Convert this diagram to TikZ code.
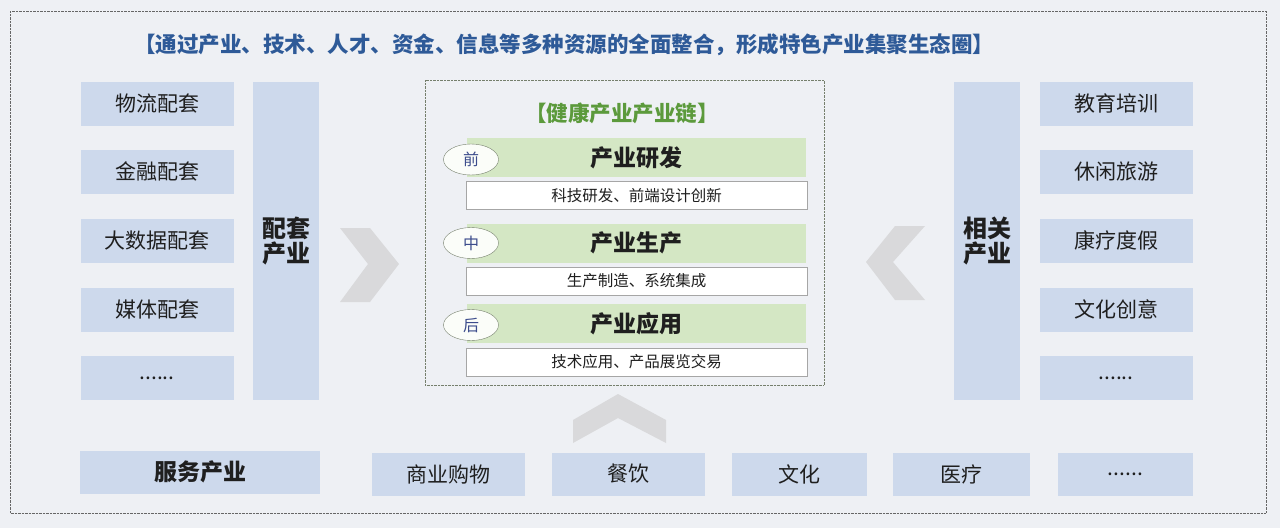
\documentclass[tikz,border=0pt]{standalone}
\usepackage{fontspec}
\setmainfont{Noto Sans CJK SC}
\usetikzlibrary{shapes.geometric}
\definecolor{bgcol}{HTML}{EEF0F4}
\definecolor{boxblue}{HTML}{CDD9EC}
\definecolor{titleblue}{HTML}{2E5A98}
\definecolor{chaingreen}{HTML}{5C9A3C}
\definecolor{bandgreen}{HTML}{D4E7C4}
\definecolor{chevgray}{HTML}{D9D9DB}
\definecolor{ellblue}{HTML}{3C4C8C}
\begin{document}
\begin{tikzpicture}[x=1pt,y=-1pt,
				every node/.style={inner sep=0pt,text=black!88},
				sidebox/.style={rectangle,fill=boxblue,minimum width=153pt,minimum height=44pt,font=\fontsize{21}{21}\selectfont},
				tallbox/.style={rectangle,fill=boxblue,minimum width=66pt,minimum height=318pt,align=center,font=\fontsize{24}{25}\selectfont\bfseries},
				bottombox/.style={rectangle,fill=boxblue,minimum height=43pt,font=\fontsize{21}{21}\selectfont},
				band/.style={rectangle,fill=bandgreen,minimum width=339pt,minimum height=39pt,font=\fontsize{23}{23}\selectfont\bfseries},
				subbox/.style={rectangle,fill=white,draw=black!35,minimum width=341pt,minimum height=28pt,font=\fontsize{15.5}{16}\selectfont},
				stage/.style={ellipse,fill=white!90!bandgreen,draw=black!45!bandgreen,minimum width=55pt,minimum height=31pt,font=\fontsize{16}{16}\selectfont,text=ellblue},
				chevron/.style={fill=chevgray,draw=none}]
% background and frames
\fill[bgcol] (0,0) rectangle (1280,528);
\draw[densely dotted,black!60] (10,11) rectangle (1266,513);
\node[text=titleblue,font=\fontsize{21.5}{22}\selectfont\bfseries] (title) at (564,45) {【通过产业、技术、人才、资金、信息等多种资源的全面整合，形成特色产业集聚生态圈】};

% left side
\node[sidebox] (l1) at (157,103.5) {物流配套};
\node[sidebox] (l2) at (157,171.5) {金融配套};
\node[sidebox] (l3) at (157,240.5) {大数据配套};
\node[sidebox] (l4) at (157,309.5) {媒体配套};
\node[sidebox] (l5) at (157,378) {......};
\node[tallbox] (peitao) at (286,241) {配套\\产业};

% right side
\node[tallbox] (xiangguan) at (987,241) {相关\\产业};
\node[sidebox] (r1) at (1116,103.5) {教育培训};
\node[sidebox] (r2) at (1116,171.5) {休闲旅游};
\node[sidebox] (r3) at (1116,240.5) {康疗度假};
\node[sidebox] (r4) at (1116,309.5) {文化创意};
\node[sidebox] (r5) at (1116,378) {......};

% chevrons
\fill[chevron] (340,228) -- (370,228) -- (399,264) -- (370,302) -- (340,302) -- (368,264) -- cycle;
\fill[chevron] (925,226) -- (895,226) -- (866,262) -- (895,300) -- (925,300) -- (893,262) -- cycle;
\fill[chevron] (573,420) -- (618,394) -- (666,420) -- (666,443) -- (618,418) -- (573,443) -- cycle;

% industry chain
\draw[densely dotted,black!45!bandgreen] (425,80) rectangle (824,385);
\node[text=chaingreen,font=\fontsize{21.5}{22}\selectfont\bfseries] (chain) at (622,113) {【健康产业产业链】};

\node[band] (yanfa) at (636.5,157.5) {产业研发};
\node[subbox] (sub1) at (636.5,195.5) {科技研发、前端设计创新};
\node[stage] (qian) at (471,159.5) {前};

\node[band] (shengchan) at (636.5,243) {产业生产};
\node[subbox] (sub2) at (636.5,281) {生产制造、系统集成};
\node[stage] (zhong) at (471,243) {中};

\node[band] (yingyong) at (636.5,323.5) {产业应用};
\node[subbox] (sub3) at (636.5,362) {技术应用、产品展览交易};
\node[stage] (hou) at (471,325) {后};

% bottom row
\node[bottombox,minimum width=240pt,font=\fontsize{23}{23}\selectfont\bfseries] (fuwu) at (200,472) {服务产业};
\node[bottombox,minimum width=153pt] (b1) at (448,474) {商业购物};
\node[bottombox,minimum width=153pt] (b2) at (628,474) {餐饮};
\node[bottombox,minimum width=135pt] (b3) at (799,474) {文化};
\node[bottombox,minimum width=137pt] (b4) at (961.5,474) {医疗};
\node[bottombox,minimum width=135pt] (b5) at (1125.5,474) {......};
\end{tikzpicture}
\end{document}
